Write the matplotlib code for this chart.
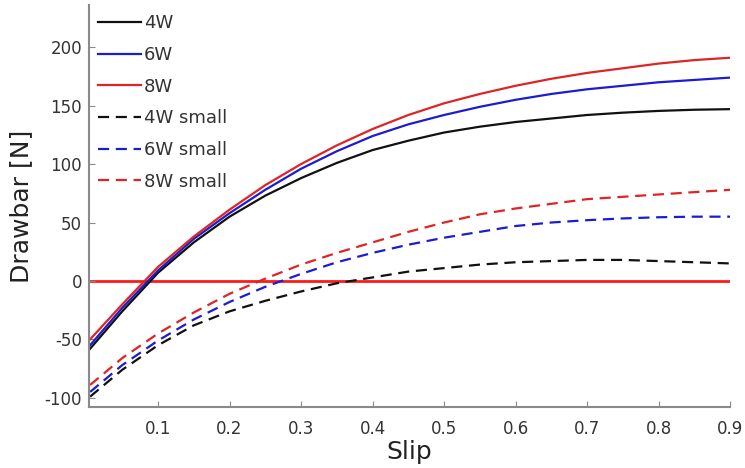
import matplotlib
matplotlib.use("Agg")
import matplotlib.pyplot as plt
import numpy as np

plt.rcParams["axes.unicode_minus"] = False

slip = [0.005, 0.05, 0.1, 0.15, 0.2, 0.25, 0.3, 0.35, 0.4, 0.45,
        0.5, 0.55, 0.6, 0.65, 0.7, 0.75, 0.8, 0.85, 0.9]

w4 = [-58, -26, 7, 33, 55, 73, 88, 101, 112, 120,
      127, 132, 136, 139, 142, 144, 145.5, 146.5, 147]
w6 = [-55, -23, 9, 36, 58, 78, 96, 111, 124, 134,
      142, 149, 155, 160, 164, 167, 170, 172, 174]
w8 = [-50, -20, 12, 38, 61, 82, 100, 116, 130, 142,
      152, 160, 167, 173, 178, 182, 186, 189, 191]
w4_small = [-99, -76, -55, -38, -26, -17, -9, -2, 3, 8,
            11, 14, 16, 17, 18, 18, 17, 16, 15]
w6_small = [-95, -72, -51, -33, -18, -5, 6, 16, 24, 31,
            37, 42, 47, 50, 52, 53.5, 54.5, 55, 55]
w8_small = [-89, -66, -45, -27, -11, 2, 14, 24, 33, 42,
            50, 57, 62, 66, 70, 72, 74, 76, 78]

labels = ["4W", "6W", "8W", "4W small", "6W small", "8W small"]
black, blue, red = "#111111", "#1c1cd0", "#e02424"

fig = plt.figure(figsize=(7.45, 4.68), dpi=100)
ax = fig.add_axes([0.1195, 0.13, 0.8605, 0.859])

ax.axhline(0, color="#ff1a1a", lw=2.0, zorder=1)
ax.plot(slip, w4, color=black, lw=1.6, label=labels[0])
ax.plot(slip, w6, color=blue, lw=1.6, label=labels[1])
ax.plot(slip, w8, color=red, lw=1.6, label=labels[2])
ax.plot(slip, w4_small, color=black, lw=1.6, ls=(0, (5, 3)), label=labels[3])
ax.plot(slip, w6_small, color=blue, lw=1.6, ls=(0, (5, 3)), label=labels[4])
ax.plot(slip, w8_small, color=red, lw=1.6, ls=(0, (5, 3)), label=labels[5])

ax.set_xlim(0.0035, 0.9)
ax.set_ylim(-108, 236)
ax.set_xticks([0.1, 0.2, 0.3, 0.4, 0.5, 0.6, 0.7, 0.8, 0.9])
ax.set_yticks([-100, -50, 0, 50, 100, 150, 200])

for s in ["top", "right"]:
    ax.spines[s].set_visible(False)
for s in ["left", "bottom"]:
    ax.spines[s].set_color("#8a8a8a")
    ax.spines[s].set_linewidth(1.5)
ax.tick_params(direction="in", length=4, color="#8a8a8a", labelsize=12,
               labelcolor="#333333")
ax.tick_params(axis="x", pad=9)
ax.tick_params(axis="y", pad=5)

ax.set_xlabel("Slip", fontsize=18, color="#222222", labelpad=2)
ax.set_ylabel("Drawbar [N]", fontsize=18, color="#222222", labelpad=8)

ax.legend(loc="upper left", frameon=False, fontsize=13, labelspacing=0.76,
          handlelength=2.4, handletextpad=0.15, borderaxespad=0.1,
          labelcolor="#333333")

fig.savefig("out.png", dpi=100)
